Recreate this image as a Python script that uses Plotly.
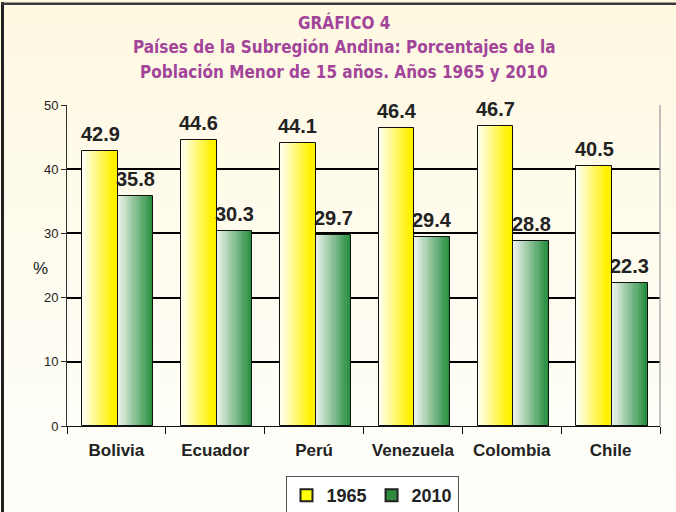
import plotly.graph_objects as go

categories = ["Bolivia", "Ecuador", "Perú", "Venezuela", "Colombia", "Chile"]
v1965 = [42.9, 44.6, 44.1, 46.4, 46.7, 40.5]
v2010 = [35.8, 30.3, 29.7, 29.4, 28.8, 22.3]
series_names = ["1965", "2010"]
y_ticks = [0, 10, 20, 30, 40, 50]
title_lines = ["GRÁFICO 4",
               "Países de la Subregión Andina: Porcentajes de la",
               "Población Menor de 15 años. Años 1965 y 2010"]

W, H = 676, 512
L, R, T, B = 67, 660, 105, 426


def px_x(p):
    return (p - L) / (R - L)


def px_y(p):
    return (B - p) / (B - T)


def hexrgb(h):
    h = h.lstrip("#")
    return tuple(int(h[i:i + 2], 16) for i in (0, 2, 4))


def lerp(c1, c2, t):
    a, b = hexrgb(c1), hexrgb(c2)
    return "rgb(%d,%d,%d)" % tuple(round(a[i] + (b[i] - a[i]) * t) for i in range(3))


fig = go.Figure()

BW = 0.36
SH = 0.015
NS = 16
series = [
    (v1965, -BW + SH, "#FFFFF6", "#FFF200", 0.85, "#FFFF00"),
    (v2010, 0.0 + SH, "#EEF4EE", "#1F8A38", 1.0, "#2E8B3E"),
]

for vals, off0, c_start, c_end, span, _ in series:
    for i in range(NS):
        t = (i + 0.5) / NS
        tt = min(1.0, t / span)
        fig.add_trace(go.Bar(
            x=categories, y=vals, width=BW / NS, offset=off0 + i * BW / NS,
            marker=dict(color=lerp(c_start, c_end, tt), line=dict(width=0)),
            showlegend=False, hoverinfo="skip",
        ))

for (vals, off0, _, _, _, legc), name in zip(series, series_names):
    fig.add_trace(go.Bar(
        x=categories, y=vals, width=BW, offset=off0,
        marker=dict(color="rgba(0,0,0,0)", line=dict(color="#111", width=1)),
        showlegend=False, name=name, hoverinfo="x+y",
    ))

for (vals, off0, _, _, _, legc), name in zip(series, series_names):
    fig.add_trace(go.Bar(
        x=categories, y=[None] * len(categories), name=name,
        marker=dict(color=legc, line=dict(color="#222", width=1)),
        showlegend=True,
    ))

annotations = []
cat_px = (R - L) / len(categories)
for (vals, off0, *_rest) in series:
    xs = (off0 + BW / 2) * cat_px
    for c, v in zip(categories, vals):
        annotations.append(dict(
            x=c, y=v, xref="x", yref="y", text=f"{v:.1f}", showarrow=False,
            xanchor="center", yanchor="bottom", xshift=xs, yshift=4,
            font=dict(family="Liberation Sans", size=20, color="#222", weight="bold")))

for line, yc in zip(title_lines, [22, 47, 72]):
    annotations.append(dict(
        text=line, xref="paper", yref="paper", x=px_x(344), y=px_y(yc),
        xanchor="center", yanchor="middle", showarrow=False,
        font=dict(family="Liberation Sans Narrow, DejaVu Sans Condensed, Roboto, sans-serif",
                  size=17, color="#A2449A", weight="bold")))

annotations.append(dict(text="%", xref="paper", yref="paper", x=px_x(40), y=px_y(268),
                        xanchor="center", yanchor="middle", showarrow=False,
                        font=dict(family="Liberation Sans", size=17, color="#222")))

shapes = []
NB = 24
for i in range(NB):
    y0 = H * i / NB
    y1 = H * (i + 1) / NB
    shapes.append(dict(type="rect", xref="paper", yref="paper",
                       x0=px_x(-5), x1=px_x(W + 5), y0=px_y(y1 + 0.5), y1=px_y(y0 - 0.5),
                       fillcolor=lerp("#FFF9E2", "#FEFEFB", i / (NB - 1)),
                       line=dict(width=0), layer="below"))
# outer frame: left and top edges
shapes.append(dict(type="rect", xref="paper", yref="paper",
                   x0=px_x(1), x1=px_x(4), y0=px_y(H + 5), y1=px_y(2),
                   fillcolor="#222", line=dict(width=0)))
shapes.append(dict(type="rect", xref="paper", yref="paper",
                   x0=px_x(1), x1=px_x(W + 5), y0=px_y(5), y1=px_y(2.5),
                   fillcolor="#3a3a3a", line=dict(width=0)))
shapes.append(dict(type="line", xref="paper", yref="paper",
                   x0=1, x1=1, y0=0, y1=1, line=dict(color="#999", width=1.2)))

fig.update_layout(
    width=W, height=H,
    margin=dict(l=L, r=W - R, t=T, b=H - B, autoexpand=False),
    paper_bgcolor="#FEFEFB", plot_bgcolor="rgba(0,0,0,0)",
    barmode="overlay", bargap=0,
    shapes=shapes,
    annotations=annotations,
    showlegend=True,
    legend=dict(orientation="h", x=px_x(372), xanchor="center", y=px_y(476), yanchor="top",
                bordercolor="#555", borderwidth=1, bgcolor="#FFFFFF",
                font=dict(family="Liberation Sans", size=18, color="#222", weight="bold"),
                itemsizing="constant", traceorder="normal", itemwidth=30,
                tracegroupgap=0),
    font=dict(family="Liberation Sans", color="#222"),
)

fig.update_yaxes(range=[0, 50], tickvals=y_ticks, showgrid=True, gridcolor="#000", gridwidth=1.6,
                 zeroline=False, showline=True, linecolor="#333", linewidth=1,
                 ticks="outside", ticklen=5, tickcolor="#333",
                 tickfont=dict(family="Liberation Sans", size=13, color="#222"))
fig.update_xaxes(showline=True, linecolor="#111", linewidth=1.2, ticks="outside", ticklen=7,
                 tickcolor="#111", tickson="boundaries", showgrid=False,
                 ticklabelstandoff=8,
                 tickfont=dict(family="Liberation Sans", size=17, color="#222", weight="bold"))

fig.write_html("out.html", config={"displayModeBar": False},
               post_script="document.body.style.margin='0';document.body.style.overflow='hidden';")
